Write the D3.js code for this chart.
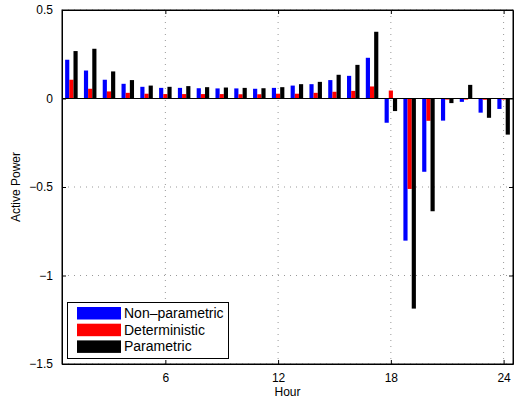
<!DOCTYPE html>
<html><head><meta charset="utf-8">
<script src="https://cdn.jsdelivr.net/npm/d3@7"></script>
<style>body{margin:0;background:#fff;} svg{display:block;} text{font-family:"Liberation Sans",Arial,Helvetica,sans-serif;}</style>
</head><body><div id="chart"></div>
<script>
const hours = d3.range(1, 25);
const seriesNames = ["Non\u2013parametric", "Deterministic", "Parametric"];
const seriesColors = ["#0000ff", "#ff0000", "#000000"];
const nonParametric = [0.219, 0.158, 0.106, 0.083, 0.066, 0.060, 0.060, 0.058, 0.057, 0.057, 0.055, 0.060, 0.073, 0.081, 0.104, 0.128, 0.230, -0.137, -0.803, -0.414, -0.125, -0.019, -0.080, -0.059];
const deterministic = [0.106, 0.055, 0.040, 0.032, 0.027, 0.025, 0.025, 0.025, 0.025, 0.024, 0.024, 0.027, 0.027, 0.032, 0.038, 0.043, 0.068, 0.045, -0.511, -0.126, -0.006, -0.006, -0.007, -0.006];
const parametric = [0.268, 0.281, 0.153, 0.104, 0.073, 0.066, 0.070, 0.064, 0.062, 0.060, 0.058, 0.064, 0.081, 0.094, 0.134, 0.190, 0.377, -0.071, -1.187, -0.637, -0.026, 0.077, -0.109, -0.204];
const xTicks = [6, 12, 18, 24];
const yTicks = [-1.5, -1, -0.5, 0, 0.5];
const yTickLabels = ["\u22121.5", "\u22121", "\u22120.5", "0", "0.5"];

const W = 514, H = 405;
const m = {l: 62, t: 10, r: 1, b: 41};
const svg = d3.select("#chart").append("svg").attr("width", W).attr("height", H);
const x = d3.scaleLinear().domain([0.5, 24.5]).range([m.l, W - m.r]);
const y = d3.scaleLinear().domain([-1.5, 0.5]).range([H - m.b, m.t]);
const g = svg.append("g");

// grid
g.selectAll(".vg").data(xTicks).enter().append("line")
  .attr("x1", d => x(d)).attr("x2", d => x(d)).attr("y1", y(0.5)).attr("y2", y(-1.5))
  .attr("stroke", "#999").attr("stroke-dasharray", "1,5");
g.selectAll(".hg").data(yTicks).enter().append("line")
  .attr("y1", d => y(d)).attr("y2", d => y(d)).attr("x1", x(0.5)).attr("x2", x(24.5))
  .attr("stroke", "#999").attr("stroke-dasharray", "1,5");

// bars
const data = [nonParametric, deterministic, parametric];
const bw = 0.222;
data.forEach((vals, si) => {
  g.selectAll(".b" + si).data(vals).enter().append("rect")
    .attr("x", (d, i) => x(hours[i] + (si - 1) * bw - bw / 2))
    .attr("width", x(bw) - x(0))
    .attr("y", d => y(Math.max(0, d)))
    .attr("height", d => Math.abs(y(d) - y(0)))
    .attr("fill", seriesColors[si]);
});
// baseline
g.append("line").attr("x1", x(0.5)).attr("x2", x(24.5)).attr("y1", y(0)).attr("y2", y(0))
  .attr("stroke", "#000").attr("stroke-width", 1);

// axes
const xb = d3.axisBottom(x).tickValues(xTicks).tickSizeInner(-4).tickSizeOuter(0).tickPadding(9);
const xt = d3.axisTop(x).tickValues(xTicks).tickSizeInner(-4).tickSizeOuter(0).tickFormat("");
const yl = d3.axisLeft(y).tickValues(yTicks).tickSizeInner(-4).tickSizeOuter(0).tickPadding(9)
  .tickFormat((d, i) => yTickLabels[i]);
const yr = d3.axisRight(y).tickValues(yTicks).tickSizeInner(-4).tickSizeOuter(0).tickFormat("");
[[xb, `translate(0,${y(-1.5)})`], [xt, `translate(0,${y(0.5)})`], [yl, `translate(${x(0.5)},0)`], [yr, `translate(${x(24.5)},0)`]]
  .forEach(([ax, tr]) => {
    const a = svg.append("g").attr("transform", tr).call(ax);
    a.selectAll("path,line").attr("stroke", "#000");
    a.selectAll("text").attr("font-size", 12).attr("fill", "#000")
      .attr("font-family", "Liberation Sans, Arial, sans-serif");
  });
svg.append("rect").attr("x", x(0.5)).attr("y", y(0.5)).attr("width", x(24.5) - x(0.5)).attr("height", y(-1.5) - y(0.5))
  .attr("fill", "none").attr("stroke", "#000");

// labels
svg.append("text").attr("x", x(12.5)).attr("y", 396).attr("text-anchor", "middle").attr("font-size", 12).text("Hour");
svg.append("text").attr("transform", `translate(20,${(y(0.5) + y(-1.5)) / 2}) rotate(-90)`)
  .attr("text-anchor", "middle").attr("font-size", 12).text("Active Power");

// legend
const lg = svg.append("g");
lg.append("rect").attr("x", 67.5).attr("y", 302.5).attr("width", 161).attr("height", 56)
  .attr("fill", "#fff").attr("stroke", "#000");
seriesNames.forEach((n, i) => {
  const yy = 307 + i * 16.7;
  lg.append("rect").attr("x", 77).attr("y", yy).attr("width", 44).attr("height", 12.5).attr("fill", seriesColors[i]);
  lg.append("text").attr("x", 124).attr("y", yy + 11).attr("font-size", 14).text(n);
});
</script></body></html>
